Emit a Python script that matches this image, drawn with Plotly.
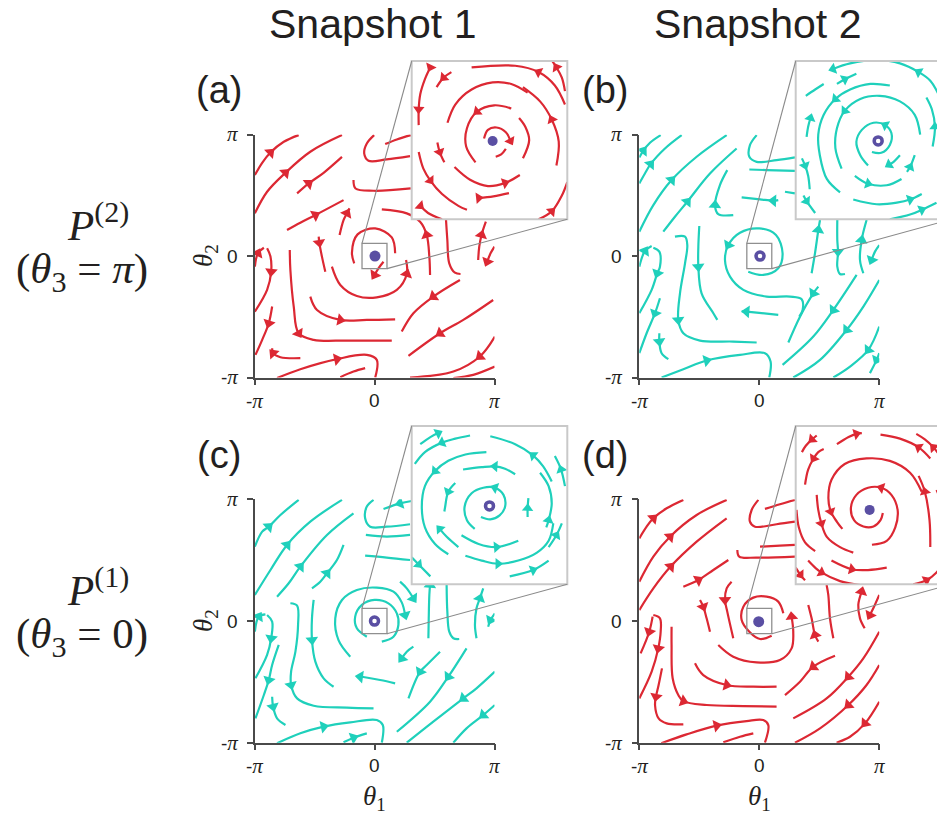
import math
import plotly.graph_objects as go

# ---------------------------------------------------------------- data
# every streamline: (theta1/pi values, theta2/pi values, indices of arrowheads)
# points are listed in the direction of the flow

# panel (a): P(2), snapshot 1 (red, stable point)
A_MAIN = [
    ([-0.997, -0.936, -0.867, -0.756, -0.632], [0.666, 0.767, 0.852, 0.940, 0.995], [2]),
    ([-0.997, -0.895, -0.742, -0.535, -0.271], [0.351, 0.529, 0.685, 0.858, 0.995], [2]),
    ([-0.645, -0.548, -0.424, -0.271], [0.515, 0.597, 0.685, 0.816], [1]),
    ([-0.729, -0.618, -0.493, -0.258], [0.214, 0.274, 0.337, 0.460], [2]),
    ([-0.003, -0.064, -0.086, -0.050, 0.102, 0.296], [0.995, 0.926, 0.844, 0.784, 0.795, 0.822], []),
    ([0.089, 0.186, 0.302], [0.921, 0.959, 0.995], []),
    ([-0.175, -0.158, -0.008, 0.302], [0.625, 0.556, 0.537, 0.556], []),
    ([-0.291, -0.258, -0.230, -0.208], [0.173, 0.296, 0.351, 0.392], [2]),
    ([-0.465, -0.460, -0.438, -0.410], [0.159, 0.110, -0.005, -0.129], [1]),
    ([0.172, 0.144, 0.006, -0.141, -0.188, -0.169], [0.022, 0.153, 0.227, 0.178, 0.027, -0.060], []),
    ([0.075, 0.033, 0.0], [-0.047, -0.101, -0.156], [2]),
    ([-0.355, -0.285, -0.147, 0.019, 0.186, 0.269, 0.263], [-0.088, -0.238, -0.329, -0.340, -0.279, -0.148, -0.033], [5]),
    ([0.463, 0.457, 0.435, 0.380, 0.269, 0.061], [-0.156, -0.005, 0.173, 0.282, 0.351, 0.384], [2]),
    ([0.596, 0.607, 0.623, 0.670, 0.717], [0.296, 0.132, -0.060, -0.137, -0.148], []),
    ([0.864, 0.873, 0.892, 0.928], [-0.033, 0.077, 0.173, 0.282], [2]),
    ([1.0, 0.967, 0.939], [0.077, 0.022, -0.047], [2]),
    ([-0.997, -0.972, -0.922], [-0.088, 0.022, 0.068], [1]),
    ([-0.895, -0.867, -0.861, -0.895, -0.997], [0.063, -0.005, -0.129, -0.279, -0.458], [2]),
    ([-0.853, -0.881, -0.936, -0.992], [-0.416, -0.553, -0.690, -0.814], [1]),
    ([-0.618, -0.784, -0.845, -0.853], [-0.841, -0.833, -0.800, -0.759], [2]),
    ([-0.706, -0.701, -0.673, -0.632, -0.507, -0.230, 0.144], [0.049, -0.115, -0.416, -0.636, -0.690, -0.696, -0.696], [3]),
    ([-0.535, -0.479, -0.285, -0.064, 0.172], [-0.334, -0.444, -0.526, -0.526, -0.521], [2]),
    ([-0.812, -0.618, -0.313, -0.064, 0.019, 0.006], [-1.005, -0.932, -0.849, -0.814, -0.855, -1.0], [2]),
    ([-0.285, -0.175, -0.078], [-0.997, -0.951, -0.923], []),
    ([0.712, 0.490, 0.324, 0.227], [-0.197, -0.334, -0.471, -0.622], [1]),
    ([0.989, 0.740, 0.546, 0.283], [-0.362, -0.526, -0.636, -0.822], [2]),
    ([1.003, 0.878, 0.657, 0.296], [-0.663, -0.827, -0.951, -1.0], [1]),
    ([1.003, 0.823, 0.657], [-0.910, -0.978, -1.005], []),
]

A_INSET = [
    ([-0.007, -0.002, 0.009, 0.021, 0.027], [0.002, 0.013, 0.016, 0.010, -0.001], [4]),
    ([0.021, 0.015, 0.008], [-0.011, -0.018, -0.021], []),
    ([0.028, 0.006, -0.016, -0.029, -0.030, -0.018], [0.040, 0.044, 0.036, 0.015, -0.008, -0.028], [2]),
    ([0.043, 0.051, 0.046, 0.038], [-0.023, 0.000, 0.017, 0.028], []),
    ([-0.045, -0.025, -0.002, 0.020, 0.039], [-0.034, -0.050, -0.058, -0.054, -0.044], [3]),
    ([0.049, 0.028, 0.004, -0.023, -0.044, -0.054], [0.060, 0.071, 0.073, 0.064, 0.045, 0.022], []),
    ([0.086, 0.089, 0.080, 0.065, 0.043], [-0.032, -0.002, 0.026, 0.049, 0.067], [2]),
    ([0.097, 0.084, 0.063, 0.033, -0.023], [0.045, 0.069, 0.086, 0.094, 0.092], [2]),
    ([0.097, 0.093, 0.086, 0.080], [0.062, 0.079, 0.092, 0.101], [2]),
    ([-0.076, -0.083, -0.089, -0.091, -0.091], [0.092, 0.077, 0.058, 0.039, 0.019], [0, 3]),
    ([-0.049, -0.059, -0.068], [0.086, 0.079, 0.067], [1]),
    ([-0.067, -0.064, -0.058], [-0.003, -0.015, -0.028], [1]),
    ([-0.091, -0.085, -0.076, -0.061, -0.040, -0.029], [-0.015, -0.036, -0.051, -0.068, -0.083, -0.088], [2]),
    ([-0.014, 0.005, 0.025], [-0.073, -0.071, -0.067], [0]),
    ([-0.089, -0.079, -0.061], [-0.083, -0.092, -0.100], [0]),
    ([0.063, 0.080, 0.093, 0.100], [-0.100, -0.090, -0.070, -0.053], [1]),
]

# panel (b): P(2), snapshot 2 (cyan, unstable point)
B_MAIN = [
    ([-1.0, -0.967, -0.911, -0.822], [0.811, 0.866, 0.932, 0.995], [1]),
    ([-1.0, -0.953, -0.906, -0.786, -0.647], [0.597, 0.679, 0.756, 0.885, 0.995], [2]),
    ([-1.0, -0.883, -0.731, -0.522, -0.272], [0.2, 0.419, 0.625, 0.817, 0.995], [2]),
    ([-0.8, -0.703, -0.6, -0.411, -0.189], [0.2, 0.323, 0.447, 0.679, 0.885], [2]),
    ([-0.217, -0.342, -0.369, -0.328, -0.267], [0.337, 0.345, 0.419, 0.584, 0.707], [2]),
    ([-0.022, -0.078, -0.083, -0.022, 0.144, 0.297], [0.995, 0.912, 0.816, 0.775, 0.789, 0.811], []),
    ([-0.083, 0.061, 0.297], [0.712, 0.707, 0.701], []),
    ([0.158, 0.117, 0.006, -0.147], [0.460, 0.455, 0.466, 0.482], [1]),
    ([0.214, 0.297], [0.529, 0.515], []),
    ([-0.092, 0.033, 0.158, 0.194, 0.139, 0.0, -0.161, -0.258, -0.286, -0.244, -0.133, 0.061, 0.256, 0.353, 0.361, 0.333],
     [-0.129, -0.156, -0.101, 0.022, 0.173, 0.227, 0.192, 0.090, -0.033, -0.170, -0.279, -0.334, -0.334, -0.356, -0.444, -0.499], [7]),
    ([-0.5, -0.508, -0.508, -0.481, -0.383, -0.35], [0.247, 0.077, -0.088, -0.307, -0.471, -0.526], [2]),
    ([-0.703, -0.619, -0.6, -0.619, -0.661, -0.675, -0.633, -0.494, -0.217, -0.022],
     [0.159, 0.159, 0.090, -0.060, -0.307, -0.526, -0.636, -0.696, -0.704, -0.712], [5]),
    ([-1.0, -0.953, -0.897], [-0.088, 0.041, 0.082], [1]),
    ([-0.883, -0.833, -0.828, -0.85, -0.897, -1.0], [0.068, 0.036, -0.088, -0.142, -0.279, -0.471], [3]),
    ([-0.828, -0.869, -0.939, -1.0], [-0.348, -0.471, -0.636, -0.8], [1]),
    ([-0.833, -0.833, -0.814, -0.758], [-0.636, -0.704, -0.8, -0.849], [1]),
    ([-0.814, -0.633, -0.439, -0.161, 0.047, 0.094, 0.083], [-1.0, -0.932, -0.860, -0.814, -0.800, -0.868, -1.0], [2]),
    ([0.158, -0.022, -0.106, -0.147], [-0.485, -0.466, -0.458, -0.455], [2]),
    ([0.492, 0.45, 0.339, 0.242], [-0.252, -0.307, -0.499, -0.712], [1]),
    ([0.811, 0.617, 0.45, 0.194], [-0.156, -0.444, -0.663, -0.896], [1]),
    ([1.0, 0.867, 0.728, 0.506, 0.283], [-0.197, -0.416, -0.608, -0.855, -1.0], [2]),
    ([1.0, 0.908, 0.756, 0.617], [-0.581, -0.773, -0.910, -1.0], [1]),
    ([1.0, 0.978, 0.922], [-0.800, -0.855, -0.964], [1]),
    ([0.436, 0.464, 0.492, 0.506], [-0.142, 0.022, 0.214, 0.296], [2]),
    ([0.65, 0.65, 0.656, 0.65, 0.672, 0.714], [0.296, 0.132, 0.036, -0.088, -0.148, -0.148], [2]),
    ([0.867, 0.839, 0.853, 0.894], [-0.142, -0.033, 0.132, 0.296], [2]),
    ([1.0, 0.964, 0.936], [0.09, 0.036, -0.033], [2]),
]

B_INSET = [
    ([-0.002, 0.010, 0.021, 0.023, 0.015, 0.000, -0.015, -0.022, -0.017, -0.007],
     [-0.015, -0.016, -0.006, 0.009, 0.019, 0.022, 0.013, -0.002, -0.019, -0.032], [4]),
    ([-0.024, -0.007, 0.017, 0.036], [-0.045, -0.055, -0.057, -0.049], [1]),
    ([0.034, 0.025, 0.020], [-0.019, -0.028, -0.031], [2]),
    ([0.043, 0.047, 0.053], [-0.040, -0.034, -0.019], [1]),
    ([0.060, 0.053, 0.034, 0.008, -0.017, -0.037, -0.047, -0.049, -0.041],
     [0.007, 0.032, 0.049, 0.056, 0.052, 0.037, 0.015, -0.010, -0.036], [5]),
    ([0.076, 0.079, 0.075, 0.068], [-0.008, 0.017, 0.039, 0.054], [1]),
    ([0.021, -0.004, -0.030, -0.049, -0.064, -0.071, -0.069, -0.060, -0.043],
     [0.069, 0.071, 0.064, 0.052, 0.032, 0.007, -0.019, -0.049, -0.066], [3]),
    ([0.088, 0.073, 0.058, 0.034, 0.004, -0.030, -0.052], [0.049, 0.075, 0.086, 0.097, 0.101, 0.097, 0.090], [2, 6]),
    ([-0.047, -0.037, -0.022], [0.071, 0.077, 0.084], [1]),
    ([-0.086, -0.084, -0.081], [0.004, 0.017, 0.028], [2]),
    ([-0.064, -0.075, -0.087], [0.071, 0.064, 0.056], []),
    ([-0.092, -0.088, -0.084, -0.082], [-0.023, -0.032, -0.045, -0.062], [1]),
    ([-0.090, -0.086, -0.075], [-0.070, -0.077, -0.092], [1]),
    ([-0.026, 0.004, 0.030, 0.047, 0.062], [-0.075, -0.081, -0.079, -0.075, -0.068], [3]),
    ([0.021, 0.047, 0.062, 0.081], [-0.100, -0.094, -0.088, -0.079], [2]),
]

# panel (c): P(1), snapshot 1 (cyan, unstable point)
C_MAIN = [
    ([-0.997, -0.936, -0.881, -0.784, -0.632], [0.611, 0.734, 0.775, 0.871, 0.995], [2]),
    ([-0.997, -0.867, -0.729, -0.535, -0.271], [0.214, 0.419, 0.625, 0.816, 0.995], [2]),
    ([-0.812, -0.715, -0.618, -0.396, -0.175], [0.2, 0.31, 0.447, 0.707, 0.885], [2]),
    ([-0.521, -0.452, -0.396, -0.313, -0.258], [0.268, 0.323, 0.392, 0.501, 0.625], [2]),
    ([-0.008, -0.064, -0.078, -0.036, 0.102, 0.296], [0.995, 0.940, 0.844, 0.775, 0.775, 0.795], []),
    ([0.310, 0.213, 0.075], [0.986, 0.967, 0.921], [1]),
    ([-0.072, 0.102, 0.296], [0.707, 0.693, 0.707], []),
    ([-0.078, 0.102, 0.296], [0.537, 0.521, 0.501], []),
    ([0.213, 0.269, 0.324], [0.323, 0.268, 0.186], [2]),
    ([0.061, 0.158, 0.199, 0.186, 0.116, 0.0, -0.105, -0.161, -0.147, -0.064],
     [-0.170, -0.129, -0.033, 0.063, 0.145, 0.173, 0.132, 0.036, -0.060, -0.129], []),
    ([-0.202, -0.299, -0.327, -0.271, -0.147, 0.019, 0.158, 0.227, 0.255],
     [-0.293, -0.159, 0.022, 0.173, 0.255, 0.274, 0.241, 0.153, 0.049], [8]),
    ([-0.507, -0.521, -0.521, -0.493, -0.424, -0.341], [0.173, 0.022, -0.156, -0.334, -0.471, -0.540], [2]),
    ([-0.701, -0.645, -0.637, -0.659, -0.695, -0.695, -0.645, -0.507, -0.230, -0.008],
     [0.146, 0.126, -0.033, -0.252, -0.416, -0.526, -0.636, -0.696, -0.712, -0.718], [5]),
    ([-0.997, -0.964, -0.909], [-0.088, 0.036, 0.055], [1]),
    ([-0.895, -0.853, -0.861, -0.895, -0.992], [0.049, -0.005, -0.142, -0.279, -0.471], [2]),
    ([-0.798, -0.853, -0.881, -0.922, -0.992], [-0.197, -0.362, -0.485, -0.608, -0.800], [2]),
    ([-0.853, -0.845, -0.812, -0.742], [-0.622, -0.704, -0.800, -0.855], [1]),
    ([-0.812, -0.618, -0.424, -0.202, 0.019, 0.069, 0.061], [-1.005, -0.923, -0.868, -0.833, -0.814, -0.855, -1.0], [2]),
    ([-0.258, -0.175, -0.064], [-0.997, -0.959, -0.923], [1]),
    ([0.172, 0.047, -0.119, -0.147], [-0.512, -0.485, -0.458, -0.458], [2]),
    ([0.324, 0.269, 0.227], [-0.211, -0.252, -0.307], [2]),
    ([0.546, 0.435, 0.380, 0.283], [-0.252, -0.362, -0.416, -0.636], [2]),
    ([0.767, 0.615, 0.463, 0.186], [-0.225, -0.458, -0.663, -0.910], [1]),
    ([1.003, 0.850, 0.740, 0.490, 0.269], [-0.416, -0.553, -0.636, -0.827, -1.0], [2]),
    ([1.003, 0.906, 0.767, 0.657], [-0.690, -0.773, -0.882, -1.0], [1]),
    ([0.449, 0.452, 0.457, 0.463], [-0.142, 0.022, 0.214, 0.296], [3]),
    ([0.601, 0.607, 0.623, 0.657, 0.706], [0.296, 0.077, -0.088, -0.142, -0.148], []),
    ([0.850, 0.837, 0.850, 0.878, 0.906], [-0.142, -0.033, 0.104, 0.186, 0.268], [3]),
    ([1.003, 0.967, 0.947], [0.063, 0.008, -0.047], [1]),
]

C_INSET = [
    ([-0.011, 0.001, 0.013, 0.020, 0.018, 0.007, -0.008, -0.023, -0.032, -0.029, -0.019],
     [-0.015, -0.018, -0.013, -0.002, 0.013, 0.022, 0.022, 0.015, -0.002, -0.019, -0.030], [5]),
    ([0.049, 0.049, 0.050], [-0.015, -0.004, 0.009], [1]),
    ([0.033, 0.020, 0.007, -0.010, -0.034], [0.039, 0.046, 0.049, 0.048, 0.045], [2]),
    ([-0.044, -0.053, -0.057, -0.058], [0.028, 0.017, -0.002, -0.008], [1]),
    ([-0.040, -0.055, -0.064], [-0.053, -0.040, -0.030], [2]),
    ([-0.036, -0.014, 0.009, 0.037], [-0.038, -0.049, -0.053, -0.045], [2]),
    ([-0.031, -0.010, 0.011, 0.037, 0.061, 0.076, 0.082], [-0.064, -0.070, -0.074, -0.070, -0.060, -0.045, -0.023], [2]),
    ([0.026, 0.056, 0.076], [-0.090, -0.082, -0.070], [1]),
    ([0.076, 0.086, 0.093], [-0.053, -0.038, -0.023], [1]),
    ([0.073, 0.076, 0.080, 0.076, 0.065], [-0.028, -0.019, 0.002, 0.024, 0.041], [1]),
    ([0.080, 0.069, 0.056, 0.033, 0.001], [0.030, 0.049, 0.063, 0.077, 0.087], [2]),
    ([0.097, 0.092, 0.084], [0.024, 0.045, 0.062], [1]),
    ([-0.025, -0.044, -0.061, -0.083, -0.096], [0.088, 0.084, 0.079, 0.067, 0.052], [2]),
    ([-0.089, -0.076, -0.066], [0.077, 0.086, 0.091], [2]),
    ([-0.004, -0.031, -0.053, -0.070, -0.083, -0.087, -0.083, -0.070, -0.053],
     [0.067, 0.064, 0.056, 0.043, 0.024, -0.002, -0.028, -0.049, -0.062], [3]),
    ([-0.100, -0.091, -0.076], [-0.066, -0.075, -0.090], [1]),
]

# panel (d): P(1), snapshot 2 (red, stable point)
D_MAIN = [
    ([-1.0, -0.939, -0.883, -0.772, -0.633], [0.679, 0.775, 0.844, 0.926, 0.995], [2]),
    ([-1.0, -0.883, -0.744, -0.522, -0.272], [0.323, 0.529, 0.693, 0.871, 0.995], [2]),
    ([-1.0, -0.883, -0.739, -0.522, -0.272], [0.09, 0.268, 0.447, 0.652, 0.844], [2]),
    ([-0.633, -0.508, -0.383, -0.258], [0.282, 0.337, 0.419, 0.501], [1]),
    ([-0.008, -0.064, -0.078, -0.036, 0.144, 0.297], [0.995, 0.912, 0.816, 0.775, 0.795, 0.816], []),
    ([0.047, 0.172, 0.297], [0.921, 0.959, 0.995], []),
    ([0.006, 0.172, 0.297], [0.611, 0.619, 0.625], []),
    ([-0.183, -0.167, -0.022, 0.297], [0.584, 0.529, 0.521, 0.529], []),
    ([-0.231, -0.272, -0.286, -0.267, -0.217], [0.323, 0.268, 0.173, 0.077, -0.142], [2]),
    ([-0.494, -0.467, -0.439, -0.411], [0.173, 0.118, 0.022, -0.088], [1]),
    ([0.2, 0.158, 0.061, -0.05, -0.133, -0.147, -0.083, 0.006, 0.103],
     [0.063, 0.159, 0.200, 0.192, 0.118, 0.008, -0.088, -0.148, -0.121], []),
    ([-0.342, -0.217, -0.022, 0.172, 0.269, 0.283, 0.269], [-0.197, -0.293, -0.340, -0.321, -0.225, -0.088, 0.036], [6]),
    ([0.492, 0.464, 0.436, 0.408], [-0.170, -0.115, 0.022, 0.132], [1]),
    ([0.617, 0.589, 0.575, 0.561], [-0.142, 0.022, 0.214, 0.296], []),
    ([0.878, 0.839, 0.825, 0.853], [-0.060, 0.022, 0.132, 0.241], [3]),
    ([1.0, 0.95, 0.922], [0.214, 0.104, 0.049], [2]),
    ([-0.889, -0.917, -0.989], [0.036, -0.088, -0.266], [1]),
    ([-0.883, -0.828, -0.822, -0.842, -0.897, -1.0], [0.049, 0.022, -0.088, -0.225, -0.416, -0.636], [3]),
    ([-0.811, -0.839, -0.861, -0.869, -0.839, -0.772, -0.633], [-0.389, -0.526, -0.622, -0.690, -0.800, -0.841, -0.849], [2]),
    ([-0.731, -0.731, -0.722, -0.675, -0.633, -0.439, -0.133, 0.144],
     [-0.047, -0.197, -0.471, -0.608, -0.658, -0.690, -0.699, -0.704], [4]),
    ([-0.536, -0.467, -0.272, -0.05, 0.144], [-0.348, -0.444, -0.526, -0.540, -0.540], [2]),
    ([-0.817, -0.606, -0.356, -0.106, 0.033, 0.075, 0.047], [-1.005, -0.932, -0.860, -0.822, -0.814, -0.855, -1.0], [2]),
    ([-0.3, -0.161, -0.05], [-0.997, -0.951, -0.923], []),
    ([0.631, 0.45, 0.339, 0.214], [-0.285, -0.375, -0.499, -0.609], [1]),
    ([1.0, 0.867, 0.742, 0.561, 0.283], [-0.088, -0.307, -0.458, -0.636, -0.800], [2]),
    ([1.0, 0.894, 0.742, 0.506, 0.297], [-0.362, -0.526, -0.690, -0.882, -1.0], [2]),
    ([1.0, 0.881, 0.756, 0.644], [-0.663, -0.841, -0.951, -1.0], [1]),
]

D_INSET = [
    ([-0.002, 0.017, 0.028, 0.031, 0.023, 0.010, -0.007, -0.022, -0.029, -0.025, -0.013, 0.000, 0.009, 0.012],
     [-0.050, -0.045, -0.028, -0.006, 0.013, 0.022, 0.022, 0.013, -0.003, -0.019, -0.027, -0.027, -0.019, -0.010], [5]),
    ([0.062, 0.047, 0.021, -0.009, -0.037, -0.054, -0.058, -0.055, -0.047, -0.040],
     [0.017, 0.041, 0.056, 0.059, 0.052, 0.032, 0.009, -0.008, -0.021, -0.030], [7]),
    ([-0.073, -0.071, -0.067, -0.060, -0.043, -0.026], [0.013, -0.006, -0.023, -0.040, -0.053, -0.060], [2]),
    ([0.073, 0.072, 0.066, 0.058], [-0.053, -0.019, 0.017, 0.037], [2]),
    ([-0.064, -0.071, -0.077, -0.084, -0.088], [0.071, 0.067, 0.059, 0.045, 0.026], [2]),
    ([0.073, 0.058, 0.034, 0.009], [0.059, 0.073, 0.084, 0.089], [1]),
    ([0.085, 0.077, 0.066, 0.055], [0.063, 0.073, 0.083, 0.090], [1]),
    ([-0.047, -0.032, -0.022, -0.015], [0.077, 0.086, 0.090, 0.091], [2]),
    ([-0.073, -0.079, -0.087, -0.092], [0.088, 0.083, 0.075, 0.067], [1]),
    ([-0.084, -0.075, -0.067, -0.043, -0.017], [-0.070, -0.079, -0.085, -0.096, -0.101], [2]),
    ([-0.054, -0.028, -0.007, 0.017], [-0.070, -0.081, -0.082, -0.079], [1]),
    ([-0.100, -0.094, -0.088], [-0.079, -0.088, -0.095], [1]),
    ([0.051, 0.068, 0.081, 0.090], [-0.100, -0.095, -0.085, -0.073], [1]),
    ([0.090, 0.088, 0.081], [-0.019, 0.002, 0.019], []),
    ([-0.099, -0.096, -0.088, -0.075], [-0.006, -0.028, -0.047, -0.058], []),
]

# fixed points (theta1/pi, theta2/pi) and whether they are stable (filled)
FIXED_POINTS = {"a": (0.004, -0.001, True), "b": (0.006, -0.001, False),
                "c": (0.0, -0.001, False), "d": (-0.005, -0.006, True)}

COL_TITLES = ["Snapshot 1", "Snapshot 2"]
PANEL_LETTERS = ["(a)", "(b)", "(c)", "(d)"]
ROW_LABELS = [("<i>P</i><sup>(2)</sup>", "(<i>θ</i><sub>3</sub> = <i>π</i>)"),
              ("<i>P</i><sup>(1)</sup>", "(<i>θ</i><sub>3</sub> = 0)")]

# ---------------------------------------------------------------- style / layout
PAGE = 8                 # default body margin of the html page
W, H = 945 - PAGE, 820 - PAGE
PI = math.pi
RED = "#dc2833"
CYAN = "#1fd0bb"
PURPLE = "#5a4fa3"
AXC = "#4a4a4a"
TXT = "#231f20"
SANS = "Liberation Sans"
SERIF = "Liberation Serif"
ZOOM = 0.1      # inset half-width (theta/pi)
BOX = 0.104     # half-width of zoom box drawn on main panels

# pixel boxes in the final picture (left, top, right, bottom)
MAIN_BOX = {"a": (254.5, 134.5, 494.5, 377.5), "b": (639.3, 134.5, 879.3, 377.5),
            "c": (254.5, 499.3, 494.5, 742.7), "d": (639.3, 499.3, 879.3, 742.7)}
INSET_BOX = {"a": (411.7, 61.0, 567.3, 219.3), "b": (795.7, 61.0, 951.3, 219.3),
             "c": (411.7, 426.0, 567.3, 584.3), "d": (795.7, 426.0, 951.3, 584.3)}

PANELS = [("a", A_MAIN, A_INSET, RED, 1, 5), ("b", B_MAIN, B_INSET, CYAN, 2, 6),
          ("c", C_MAIN, C_INSET, CYAN, 3, 7), ("d", D_MAIN, D_INSET, RED, 4, 8)]


def px_x(x):
    return (x - PAGE) / W


def px_y(y):
    return 1 - (y - PAGE) / H


def axname(n):
    return ("x" if n == 1 else f"x{n}"), ("y" if n == 1 else f"y{n}")


fig = go.Figure()
layout = dict(width=W, height=H, margin=dict(l=0, r=0, t=0, b=0), autosize=False,
              paper_bgcolor="white", plot_bgcolor="white", showlegend=False)
annotations, shapes = [], []


def ann(text, x, y, size, family=SANS, xanchor="center", yanchor="middle", angle=0):
    annotations.append(dict(text=text, x=px_x(x), y=px_y(y), xref="paper", yref="paper",
                            showarrow=False, xanchor=xanchor, yanchor=yanchor, textangle=angle,
                            font=dict(size=size, family=family, color=TXT)))


def add_field(lines, color, n, width, asize):
    xa, ya = axname(n)
    xs, ys, axx, axy, ang = [], [], [], [], []
    for u, v, arrows in lines:
        xs += [p * PI for p in u] + [None]
        ys += [p * PI for p in v] + [None]
        for i in arrows:
            j0, j1 = max(i - 1, 0), min(i + 1, len(u) - 1)
            ang.append(math.degrees(math.atan2(u[j1] - u[j0], v[j1] - v[j0])))
            axx.append(u[i] * PI)
            axy.append(v[i] * PI)
    fig.add_trace(go.Scatter(x=xs, y=ys, mode="lines", xaxis=xa, yaxis=ya, hoverinfo="skip",
                             line=dict(color=color, width=width, shape="spline", smoothing=1.0)))
    fig.add_trace(go.Scatter(x=axx, y=axy, mode="markers", xaxis=xa, yaxis=ya, hoverinfo="skip",
                             marker=dict(symbol="triangle-up", size=asize, color=color, angle=ang,
                                         line=dict(width=0))))


def add_fp(key, n, size_f, size_o):
    xa, ya = axname(n)
    u, v, stable = FIXED_POINTS[key]
    if stable:
        mk = dict(symbol="circle", size=size_f, color=PURPLE, line=dict(width=0))
    else:
        mk = dict(symbol="circle", size=size_o, color="white", line=dict(color=PURPLE, width=3.5))
    fig.add_trace(go.Scatter(x=[u * PI], y=[v * PI], mode="markers", xaxis=xa, yaxis=ya,
                             hoverinfo="skip", marker=mk))


for key, main, inset, color, n, m in PANELS:
    x0, y0, x1, y1 = MAIN_BOX[key]
    axis_common = dict(range=[-PI, PI], showgrid=False, zeroline=False, showline=True,
                       linecolor=AXC, linewidth=1.5, ticks="outside", ticklen=6, tickwidth=1.5,
                       tickcolor=AXC, tickvals=[-PI, 0, PI], showticklabels=False, fixedrange=True)
    xk = "xaxis" if n == 1 else f"xaxis{n}"
    yk = "yaxis" if n == 1 else f"yaxis{n}"
    layout[xk] = dict(domain=[px_x(x0), px_x(x1)], anchor=axname(n)[1], **axis_common)
    layout[yk] = dict(domain=[px_y(y1), px_y(y0)], anchor=axname(n)[0], **axis_common)
    add_field(main, color, n, 2.2, 11)
    add_fp(key, n, 11, 8)

    # inset axes (the right-hand insets run off the page edge)
    ix0, iy0, ix1, iy1 = INSET_BOX[key]
    span = 2 * ZOOM * PI
    right_px = min(ix1, PAGE + W)
    xr = [-ZOOM * PI, -ZOOM * PI + span * (right_px - ix0) / (ix1 - ix0)]
    inset_common = dict(visible=False, showgrid=False, zeroline=False, fixedrange=True)
    layout[f"xaxis{m}"] = dict(domain=[px_x(ix0), px_x(right_px)], range=xr, anchor=f"y{m}", **inset_common)
    layout[f"yaxis{m}"] = dict(domain=[px_y(iy1), px_y(iy0)], range=[-ZOOM * PI, ZOOM * PI],
                               anchor=f"x{m}", **inset_common)
    add_field(inset, color, m, 2.2, 10)
    add_fp(key, m, 10, 8)

    # zoom box on main panel, inset frame and connector lines
    def to_px(u, v):
        return (x0 + (u + 1) / 2 * (x1 - x0), y1 - (v + 1) / 2 * (y1 - y0))
    bx0, by0 = to_px(-BOX, BOX)
    bx1, by1 = to_px(BOX, -BOX)
    shapes.append(dict(type="rect", xref="paper", yref="paper", x0=px_x(bx0), x1=px_x(bx1),
                       y0=px_y(by1), y1=px_y(by0), line=dict(color="#8f8f8f", width=1.3), layer="above"))
    shapes.append(dict(type="rect", xref="paper", yref="paper", x0=px_x(ix0), x1=px_x(ix1),
                       y0=px_y(iy1), y1=px_y(iy0), line=dict(color="#c9c9c9", width=2), layer="above"))
    shapes.append(dict(type="line", xref="paper", yref="paper", x0=px_x(bx0), y0=px_y(by0),
                       x1=px_x(ix0), y1=px_y(iy0), line=dict(color="#8a8a8a", width=1.1), layer="above"))
    shapes.append(dict(type="line", xref="paper", yref="paper", x0=px_x(bx1), y0=px_y(by1),
                       x1=px_x(ix1), y1=px_y(iy1), line=dict(color="#8a8a8a", width=1.1), layer="above"))

    # tick labels
    pi_span = "<span style='font-family:Liberation Serif;font-size:21px'><i>π</i></span>"
    labels = ["-" + pi_span, "0", pi_span]
    for lab, xp in zip(labels, [x0, (x0 + x1) / 2, x1]):
        ann(lab, xp, y1 + 23, 19)
    for lab, yp in zip(labels[::-1], [y0, (y0 + y1) / 2, y1]):
        ann(lab, x0 - 15, yp, 19, xanchor="right")

# axis titles
for key in ("c", "d"):
    x0, y0, x1, y1 = MAIN_BOX[key]
    ann("<i>θ</i><sub>1</sub>", (x0 + x1) / 2, 798, 27, family=SERIF)
for key in ("a", "c"):
    x0, y0, x1, y1 = MAIN_BOX[key]
    ann("<i>θ</i><sub>2</sub>", 205, (y0 + y1) / 2, 27, family=SERIF, angle=-90)

# column titles, panel letters, row labels
ann(COL_TITLES[0], 372, 24, 41)
ann(COL_TITLES[1], 757, 24, 41)
for lab, (xp, yp) in zip(PANEL_LETTERS, [(219, 90), (605, 90), (219, 455), (605, 455)]):
    ann(lab, xp, yp, 38)
for (top, bottom), yc in zip(ROW_LABELS, [0, 365]):
    ann(top, 98, 222 + yc, 43, family=SERIF)
    ann(bottom, 82, 272 + yc, 43, family=SERIF)

layout["annotations"] = annotations
layout["shapes"] = shapes
fig.update_layout(**layout)
fig.write_html("out.html")
